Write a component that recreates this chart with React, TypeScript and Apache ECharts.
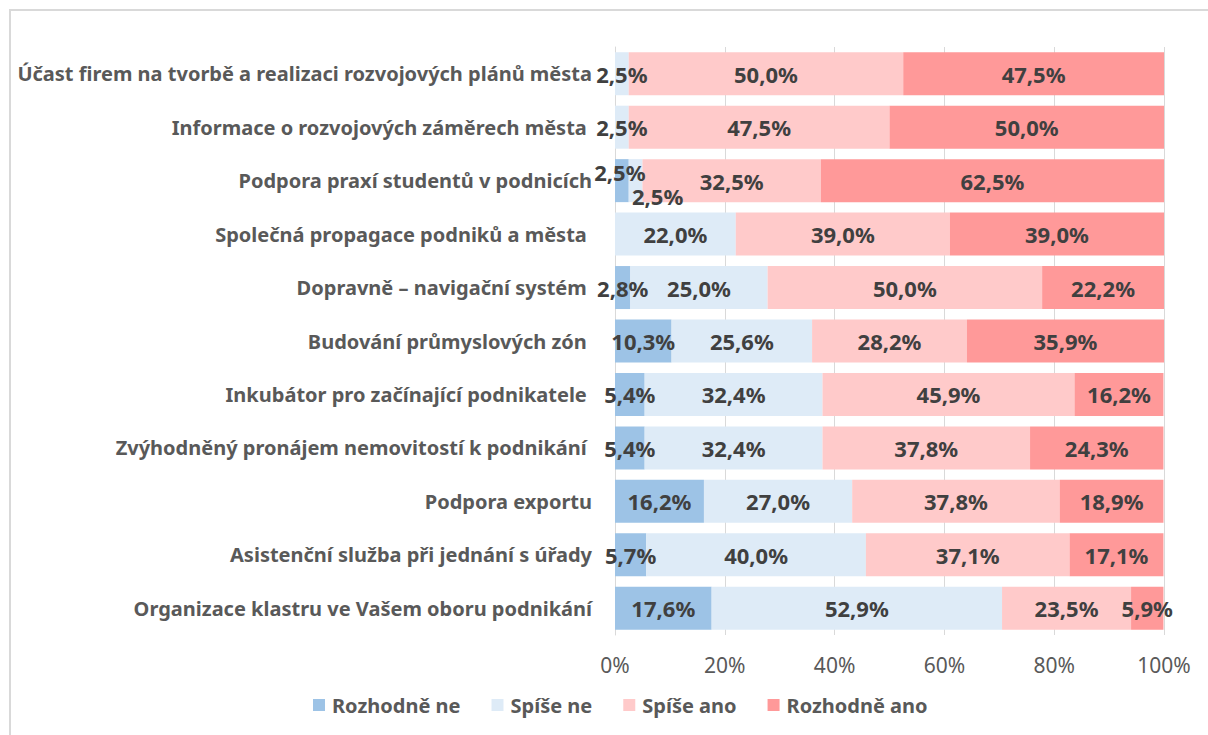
import React, { useEffect, useRef } from "react";
import * as echarts from "echarts";

const categories = [
  "Účast firem na tvorbě a realizaci rozvojových plánů města",
  "Informace o rozvojových záměrech města ",
  "Podpora praxí studentů v podnicích",
  "Společná propagace podniků a města ",
  "Dopravně – navigační systém ",
  "Budování průmyslových zón ",
  "Inkubátor pro začínající podnikatele ",
  "Zvýhodněný pronájem nemovitostí k podnikání ",
  "Podpora exportu",
  "Asistenční služba při jednání s úřady",
  "Organizace klastru ve Vašem oboru podnikání",
];

const seriesNames = ["Rozhodně ne", "Spíše ne", "Spíše ano", "Rozhodně ano"];

const rozhodneNe = [0, 0, 2.5, 0, 2.8, 10.3, 5.4, 5.4, 16.2, 5.7, 17.6];
const spiseNe = [2.5, 2.5, 2.5, 22.0, 25.0, 25.6, 32.4, 32.4, 27.0, 40.0, 52.9];
const spiseAno = [50.0, 47.5, 32.5, 39.0, 50.0, 28.2, 45.9, 37.8, 37.8, 37.1, 23.5];
const rozhodneAno = [47.5, 50.0, 62.5, 39.0, 22.2, 35.9, 16.2, 24.3, 18.9, 17.1, 5.9];

const tickValues = [0, 20, 40, 60, 80, 100];

const colors = ["#9dc3e6", "#deebf7", "#ffcaca", "#ff9999"];

// label nudges for overlapping small labels (series index, row index, dx, dy)
const labelOffsets: Array<[number, number, number, number]> = [
  [0, 2, -2, -9],
  [1, 2, 22, 15],
];

const FONT = "'Noto Sans', sans-serif";

export default function App() {
  const ref = useRef<HTMLDivElement>(null);
  useEffect(() => {
    if (!ref.current) return;
    const chart = echarts.init(ref.current, undefined, { renderer: "svg" });
    const allSeries = [rozhodneNe, spiseNe, spiseAno, rozhodneAno];
    const fmt = (v: number) => (v ? v.toFixed(1).replace(".", ",") + "%" : "");
    chart.setOption({
      animation: false,
      textStyle: { fontFamily: FONT },
      graphic: [
        {
          type: "rect",
          shape: { x: 10, y: 10, width: 1220, height: 760 },
          style: { fill: "none", stroke: "#d9d9d9", lineWidth: 2 },
          silent: true,
          z: -10,
        },
      ],
      grid: { left: 615, right: 44, top: 47, bottom: 100, containLabel: false },
      legend: {
        left: 308,
        top: 690,
        itemWidth: 12,
        itemHeight: 12,
        itemGap: 31,
        icon: "rect",
        data: seriesNames,
        textStyle: {
          fontFamily: FONT,
          fontSize: 20,
          fontWeight: "bold",
          color: "#595959",
          padding: [0, 0, 0, 2],
        },
      },
      xAxis: {
        type: "value",
        min: 0,
        max: 100,
        interval: 20,
        axisLine: { show: false },
        axisTick: { show: false },
        splitLine: { show: true, lineStyle: { color: "#d9d9d9", width: 1 } },
        axisLabel: {
          margin: 19,
          fontFamily: FONT,
          fontSize: 21,
          color: "#595959",
          formatter: (v: number) => (tickValues.includes(v) ? v + "%" : ""),
        },
      },
      yAxis: {
        type: "category",
        inverse: true,
        data: categories,
        axisLine: { show: true, lineStyle: { color: "#d9d9d9", width: 1 } },
        axisTick: { show: false },
        axisLabel: {
          margin: 23,
          fontFamily: FONT,
          fontSize: 20,
          fontWeight: "bold",
          color: "#595959",
        },
      },
      series: allSeries.map((vals, si) => ({
        name: seriesNames[si],
        type: "bar",
        stack: "total",
        barWidth: 43,
        itemStyle: { color: colors[si] },
        label: {
          show: true,
          position: "inside",
          fontFamily: FONT,
          fontSize: 22,
          fontWeight: "bold",
          color: "#404040",
          formatter: (p: any) => fmt(p.value),
        },
        labelLayout: (params: any) => {
          const o = labelOffsets.find((x) => x[0] === si && x[1] === params.dataIndex);
          return o ? { dx: o[2], dy: o[3], hideOverlap: false } : { hideOverlap: false };
        },
        data: vals,
      })),
    });
    return () => chart.dispose();
  }, []);
  return (
    <div
      ref={ref}
      style={{ position: "fixed", left: 0, top: 0, width: 1208, height: 735, background: "#fff" }}
    />
  );
}
